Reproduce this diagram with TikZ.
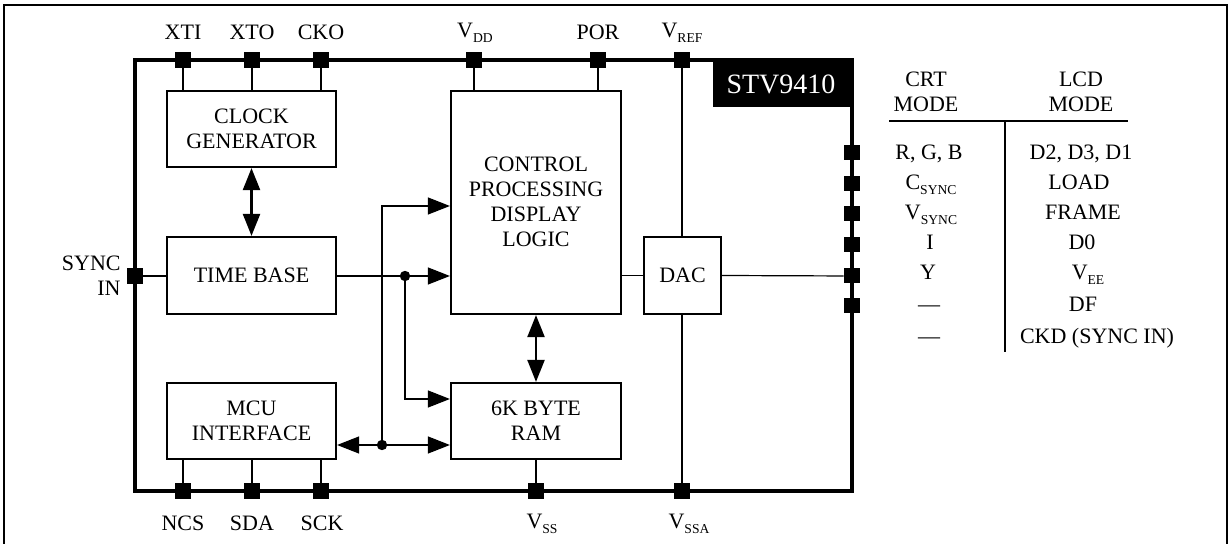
\documentclass[tikz,border=0pt]{standalone}
\usepackage{fontspec}
\setmainfont{Liberation Serif}
\usetikzlibrary{arrows.meta,positioning}
\newcommand\subs[1]{\raisebox{-0.45ex}{\fontsize{6.8}{7}\selectfont #1}}
\begin{document}
\begin{tikzpicture}[x=0.5pt,y=-0.5pt,
  every node/.style={font=\fontsize{11}{12.5}\selectfont, inner sep=0pt},
  blk/.style={draw, line width=1.1pt, align=center, inner sep=0pt},
  pinsq/.style={fill=black, minimum width=8pt, minimum height=8pt, inner sep=0pt},
  pinsqv/.style={fill=black, minimum width=8pt, minimum height=7.5pt, inner sep=0pt},
  wire/.style={line width=0.6pt},
  bus/.style={line width=1.1pt},
  tip/.style={-{Triangle[length=11pt,width=8.5pt]}},
  biarrow/.style={{Triangle[length=11pt,width=8.5pt]}-{Triangle[length=11pt,width=8.5pt]}},
  lbl/.style={align=center}
]
\useasboundingbox (0,0) rectangle (1229,544);
% outer frame
\draw[line width=0.8pt] (4,560) -- (4,5) -- (1227,5) -- (1227,560);
% chip outline
\draw[line width=1.8pt] (135,60) rectangle (852,491);
\fill (713,60) rectangle (852,107);
\node[text=white, font=\fontsize{14}{15}\selectfont] (chipname) at (781,84) {STV9410};

% blocks
\node[blk, minimum width=84.5pt, minimum height=38pt] (clk) at (251.5,129) {CLOCK\\GENERATOR};
\node[blk, minimum width=84.5pt, minimum height=38.5pt] (tb) at (251.5,275.5) {TIME BASE};
\node[blk, minimum width=84.5pt, minimum height=38pt] (mcu) at (251.5,421) {MCU\\INTERFACE};
\node[blk, minimum width=85pt, minimum height=111.5pt] (ctl) at (536,202.5) {};
\node[lbl] (ctltxt) at (536,202) {CONTROL\\PROCESSING\\DISPLAY\\LOGIC};
\node[blk, minimum width=85pt, minimum height=38pt] (ram) at (536,421) {6K BYTE\\RAM};
\node[blk, minimum width=38.5pt, minimum height=38.5pt] (dac) at (682.5,275.5) {DAC};

% pins top
\node[pinsq] (pxti) at (183,60) {};
\node[pinsq] (pxto) at (252,60) {};
\node[pinsq] (pcko) at (321,60) {};
\node[pinsq] (pvdd) at (474,60) {};
\node[pinsq] (ppor) at (598,60) {};
\node[pinsq] (pvref) at (682,60) {};
% pins bottom
\node[pinsq] (pncs) at (183,491) {};
\node[pinsq] (psda) at (252,491) {};
\node[pinsq] (psck) at (321,491) {};
\node[pinsq] (pvss) at (536,491) {};
\node[pinsq] (pvssa) at (682,491) {};
% pin left
\node[pinsq] (psync) at (135,276) {};
% pins right
\node[pinsqv] (pr1) at (852,153) {};
\node[pinsqv] (pr2) at (852,184) {};
\node[pinsqv] (pr3) at (852,214) {};
\node[pinsqv] (pr4) at (852,245) {};
\node[pinsqv] (pr5) at (852,276) {};
\node[pinsqv] (pr6) at (852,306) {};

% pin labels
\node (lxti) at (183,32) {XTI};
\node (lxto) at (252,32) {XTO};
\node (lcko) at (321,32) {CKO};
\node (lvdd) at (475,33) {V\subs{DD}};
\node (lpor) at (598,32) {POR};
\node (lvref) at (682,33) {V\subs{REF}};
\node (lncs) at (183,523) {NCS};
\node (lsda) at (252,523) {SDA};
\node (lsck) at (322,523) {SCK};
\node (lvss) at (542,524) {V\subs{SS}};
\node (lvssa) at (689,524) {V\subs{SSA}};
\node[align=right, anchor=east] (lsync) at (121,276) {SYNC\\IN};

% wires from pins
\draw[wire] (pxti) -- (pxti |- clk.north);
\draw[wire] (pxto) -- (pxto |- clk.north);
\draw[wire] (pcko) -- (pcko |- clk.north);
\draw[wire] (pvdd) -- (pvdd |- ctl.north);
\draw[wire] (ppor) -- (ppor |- ctl.north);
\draw[wire] (pvref) -- (dac.north -| pvref);
\draw[wire] (pvssa) -- (dac.south -| pvssa);
\draw[wire] (pncs) -- (pncs |- mcu.south);
\draw[wire] (psda) -- (psda |- mcu.south);
\draw[wire] (psck) -- (psck |- mcu.south);
\draw[wire] (pvss) -- (pvss |- ram.south);
\draw[wire] (psync) -- (tb.west |- psync);
\draw[wire] (ctl.east |- dac.west) -- (dac.west);
\draw[wire] (dac.east) -- (pr5);

% internal connections
\draw[bus, biarrow] (clk.south) -- (tb.north);
\draw[bus, biarrow] (ctl.south) -- (ram.north);
\coordinate (j1) at (405,276);
\coordinate (j2) at (382,445);
\draw[wire, tip] (tb.east |- j1) -- (ctl.west |- j1);
\draw[wire, tip] (j1) |- (ram.west |- 0,399);
\draw[wire, tip] (j2) |- (ctl.west |- 0,206);
\draw[wire, tip] (j2) -- (ram.west |- j2);
\draw[wire, tip] (j2) -- (mcu.east |- j2);
\fill (j1) circle (2.6pt);
\fill (j2) circle (2.6pt);

% table
\node[lbl] (hcrt) at (926,92) {CRT\\MODE};
\node[lbl] (hlcd) at (1081,92) {LCD\\MODE};
\draw[line width=0.8pt] (889,121) -- (1128,121);
\draw[line width=0.8pt] (1005,121) -- (1005,352);
\node[anchor=base] (c1) at (929,160) {R, G, B};
\node[anchor=base] (c2) at (931,190) {C\subs{SYNC}};
\node[anchor=base] (c3) at (931,220) {V\subs{SYNC}};
\node[anchor=base] (c4) at (930,250) {I};
\node[anchor=base] (c5) at (928,280) {Y};
\node[anchor=base] (c6) at (929,312) {---};
\node[anchor=base] (c7) at (929,344) {---};
\node[anchor=base] (d1) at (1081,160) {D2, D3, D1};
\node[anchor=base] (d2) at (1079,190) {LOAD};
\node[anchor=base] (d3) at (1083,220) {FRAME};
\node[anchor=base] (d4) at (1082,250) {D0};
\node[anchor=base] (d5) at (1088,280) {V\subs{EE}};
\node[anchor=base] (d6) at (1083,312) {DF};
\node[anchor=base] (d7) at (1097,344) {CKD (SYNC IN)};
\end{tikzpicture}
\end{document}
